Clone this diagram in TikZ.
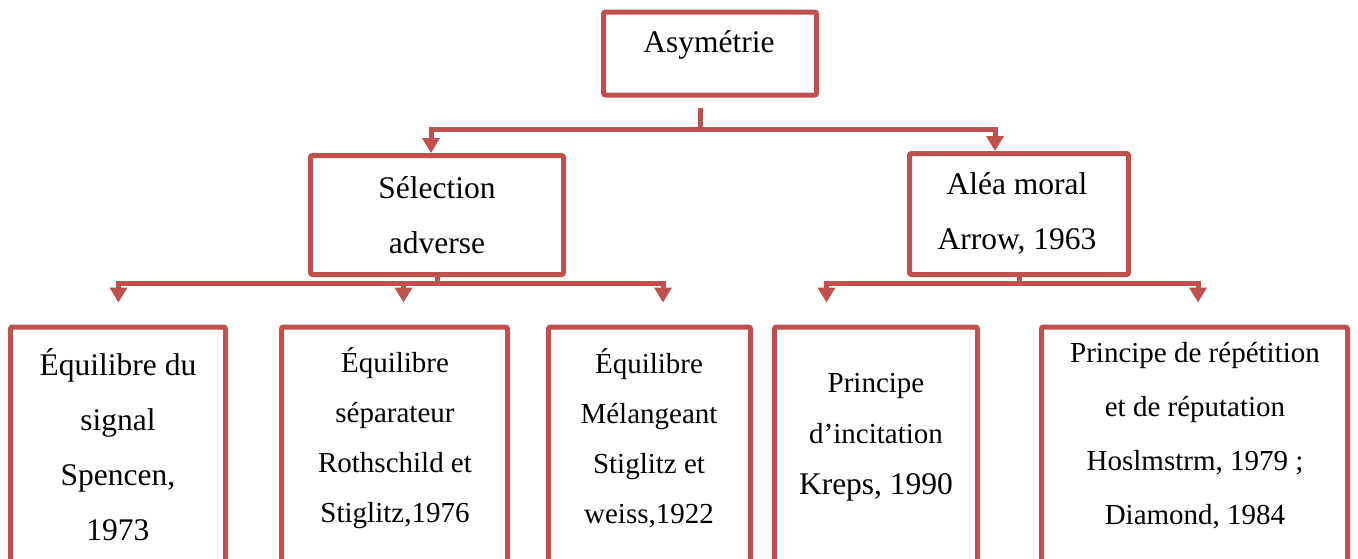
\documentclass[tikz,border=0pt]{standalone}
\usepackage{fontspec}
\setmainfont{Liberation Serif}
\usetikzlibrary{arrows.meta}
\definecolor{boxred}{RGB}{192,80,77}
\tikzset{
  box/.style={draw=boxred, line width=5pt, rounded corners=2pt, fill=white, inner sep=0pt},
  txt/.style={align=center, inner sep=0pt, text=black},
  big/.style={font=\fontsize{31.5}{55}\selectfont},
  small/.style={font=\fontsize{29}{50}\selectfont},
  link/.style={draw=boxred, line width=5pt, line join=miter},
  arrowlink/.style={link, -{Triangle[width=17pt,length=15pt]}}
}
\begin{document}
\begin{tikzpicture}[x=1pt,y=-1pt]
\useasboundingbox (0,0) rectangle (1358,558);
\clip (0,0) rectangle (1358,558);

% boxes (outer edges given by the node sizes)
\node[box, minimum width=213pt, minimum height=83pt] (top) at (710,53.5) {};
\node[box, minimum width=253pt, minimum height=119pt] (sel) at (437,215) {};
\node[box, minimum width=219pt, minimum height=121pt] (alea) at (1019,214) {};
\node[box, minimum width=215pt, minimum height=260pt] (b1) at (118,457) {};
\node[box, minimum width=226pt, minimum height=260pt] (b2) at (394.5,457) {};
\node[box, minimum width=202pt, minimum height=260pt] (b3) at (649.5,457) {};
\node[box, minimum width=203pt, minimum height=260pt] (b4) at (876,457) {};
\node[box, minimum width=306pt, minimum height=260pt] (b5) at (1194.5,457) {};

% labels
\node[txt, big] (top-t) at (709,45) {Asymétrie};
\node[txt, big] (sel-t) at (437,215) {Sélection\\adverse};
\node[txt, big] (alea-t) at (1017,213) {Aléa moral\\Arrow, 1963};
\node[txt, big] (b1-t) at (118,445) {Équilibre du\\signal\\Spencen,\\1973};
\node[txt, small] (b2-t) at (395,438) {Équilibre\\séparateur\\Rothschild et\\Stiglitz,1976};
\node[txt, small] (b3-t) at (649,438) {Équilibre\\Mélangeant\\Stiglitz et\\weiss,1922};
\node[txt, font=\fontsize{29}{51}\selectfont] (b4-t) at (876,437) {Principe\\d’incitation\\{\fontsize{31.5}{51}\selectfont Kreps, 1990}};
\node[txt, font=\fontsize{29}{54}\selectfont] (b5-t) at (1195,436) {Principe de répétition\\et de réputation\\Hoslmstrm, 1979 ;\\Diamond, 1984};

% top level connector
\draw[link] ([xshift=-10pt,yshift=-10pt]top.south) -- ++(0,22) coordinate (j0);
\draw[arrowlink] (j0) -| ([xshift=-6pt]sel.north);
\draw[arrowlink] (j0) -| ([xshift=-24pt]alea.north);

% adverse selection branch
\draw[link] (sel.south) -- ++(0,6) coordinate (j1);
\draw[arrowlink] (j1) -| ([xshift=0.5pt,yshift=22pt]b1.north);
\draw[arrowlink] (j1) -| ([xshift=9pt,yshift=22pt]b2.north);
\draw[arrowlink] (j1) -| ([xshift=13.5pt,yshift=22pt]b3.north);

% moral hazard branch
\draw[link] (alea.south) -- ++(0,6) coordinate (j2);
\draw[arrowlink] (j2) -| ([xshift=-49.5pt,yshift=22pt]b4.north);
\draw[arrowlink] (j2) -| ([xshift=3.5pt,yshift=22pt]b5.north);
\end{tikzpicture}
\end{document}
